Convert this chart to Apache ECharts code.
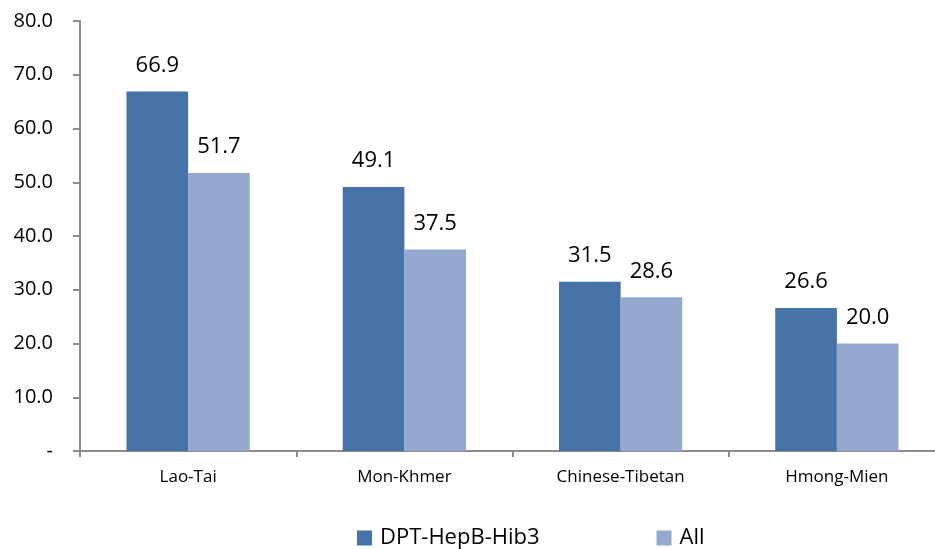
<!DOCTYPE html>
<html>
<head>
<meta charset="utf-8">
<script src="https://cdn.jsdelivr.net/npm/echarts@6/dist/echarts.min.js"></script>
<style>
  html, body { margin: 0; padding: 0; background: #fff; }
  #chart { width: 935px; height: 549px; }
</style>
</head>
<body>
<div id="chart"></div>
<script>
// Coverage by ethno-linguistic group
const categories = ['Lao-Tai', 'Mon-Khmer', 'Chinese-Tibetan', 'Hmong-Mien'];
const dptHepBHib3 = [66.9, 49.1, 31.5, 26.6];
const allValues = [51.7, 37.5, 28.6, 20.0];
const seriesNames = ['DPT-HepB-Hib3', 'All'];

const FONT = '"Open Sans", "Noto Sans", sans-serif';
const axisGray = '#8c8c8c';

const chart = echarts.init(document.getElementById('chart'), null, { renderer: 'canvas' });

const labelStyle = {
  show: true,
  position: 'top',
  distance: 15,
  color: '#000',
  fontFamily: FONT,
  fontSize: 22,
  formatter: p => p.value.toFixed(1)
};

chart.setOption({
  animation: false,
  textStyle: { fontFamily: FONT },
  // plot area runs slightly past the right edge of the canvas
  grid: {
    left: 80, width: 865, top: 21, height: 430,
    containLabel: false,
    outerBoundsMode: 'none'
  },
  legend: {
    top: 522,
    left: 352,
    itemWidth: 15,
    itemHeight: 15,
    itemGap: 117,
    icon: 'rect',
    textStyle: { fontFamily: FONT, fontSize: 22, color: '#000', padding: [0, 0, 0, 3] },
    data: seriesNames
  },
  xAxis: {
    type: 'category',
    data: categories,
    axisLine: { lineStyle: { color: axisGray, width: 2 } },
    axisTick: { show: true, length: 6, lineStyle: { color: axisGray, width: 2 } },
    axisLabel: { color: '#000', fontFamily: FONT, fontSize: 17, margin: 18 }
  },
  yAxis: {
    type: 'value',
    min: 0,
    max: 80,
    interval: 10,
    splitLine: { show: false },
    axisLine: { show: true, lineStyle: { color: axisGray, width: 2 } },
    axisTick: { show: true, length: 7, lineStyle: { color: axisGray, width: 2 } },
    axisLabel: {
      color: '#000',
      fontFamily: FONT,
      fontSize: 20,
      margin: 27,
      formatter: v => (v === 0 ? '-' : v.toFixed(1))
    }
  },
  series: [
    {
      name: seriesNames[0],
      type: 'bar',
      data: dptHepBHib3,
      barGap: '0%',
      barCategoryGap: '43%',
      itemStyle: { color: '#4572a7' },
      label: labelStyle
    },
    {
      name: seriesNames[1],
      type: 'bar',
      data: allValues,
      itemStyle: { color: '#95a9d0' },
      label: labelStyle
    }
  ]
});
</script>
</body>
</html>
